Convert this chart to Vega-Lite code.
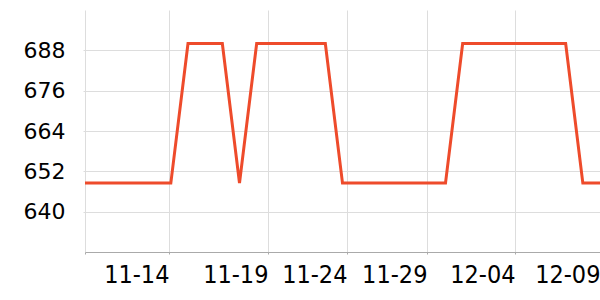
{
  "$schema": "https://vega.github.io/schema/vega-lite/v6.json",
  "width": 515,
  "height": 242,
  "autosize": {"type": "none"},
  "padding": {"left": 85, "top": 10, "right": 0, "bottom": 48},
  "background": "white",
  "config": {
    "view": {"stroke": null},
    "axis": {"labelFont": "DejaVu Sans", "labelFontSize": 22, "labelColor": "#000000", "gridColor": "#dddddd", "gridWidth": 1, "tickColor": "#aaaaaa", "tickSize": 2}
  },
  "data": {
    "values": [
      {"date": "2023-11-09", "value": 648.5},
      {"date": "2023-11-10", "value": 648.5},
      {"date": "2023-11-11", "value": 648.5},
      {"date": "2023-11-12", "value": 648.5},
      {"date": "2023-11-13", "value": 648.5},
      {"date": "2023-11-14", "value": 648.5},
      {"date": "2023-11-15", "value": 690},
      {"date": "2023-11-16", "value": 690},
      {"date": "2023-11-17", "value": 690},
      {"date": "2023-11-18", "value": 648.5},
      {"date": "2023-11-19", "value": 690},
      {"date": "2023-11-20", "value": 690},
      {"date": "2023-11-21", "value": 690},
      {"date": "2023-11-22", "value": 690},
      {"date": "2023-11-23", "value": 690},
      {"date": "2023-11-24", "value": 648.5},
      {"date": "2023-11-25", "value": 648.5},
      {"date": "2023-11-26", "value": 648.5},
      {"date": "2023-11-27", "value": 648.5},
      {"date": "2023-11-28", "value": 648.5},
      {"date": "2023-11-29", "value": 648.5},
      {"date": "2023-11-30", "value": 648.5},
      {"date": "2023-12-01", "value": 690},
      {"date": "2023-12-02", "value": 690},
      {"date": "2023-12-03", "value": 690},
      {"date": "2023-12-04", "value": 690},
      {"date": "2023-12-05", "value": 690},
      {"date": "2023-12-06", "value": 690},
      {"date": "2023-12-07", "value": 690},
      {"date": "2023-12-08", "value": 648.5},
      {"date": "2023-12-09", "value": 648.5}
    ]
  },
  "mark": {"type": "line", "color": "#ee4b2b", "strokeWidth": 3, "clip": true},
  "encoding": {
    "x": {
      "field": "date",
      "type": "temporal",
      "scale": {"type": "utc", "nice": false},
      "axis": {
        "title": null,
        "grid": true,
        "domain": true,
        "domainColor": "#aaaaaa",
        "values": [
          {"year": 2023, "month": 11, "date": 9, "utc": true},
          {"year": 2023, "month": 11, "date": 13, "hours": 21, "minutes": 26, "utc": true},
          {"year": 2023, "month": 11, "date": 19, "hours": 15, "minutes": 50, "utc": true},
          {"year": 2023, "month": 11, "date": 24, "hours": 6, "minutes": 17, "utc": true},
          {"year": 2023, "month": 11, "date": 28, "hours": 22, "minutes": 5, "utc": true},
          {"year": 2023, "month": 12, "date": 4, "hours": 1, "minutes": 12, "utc": true},
          {"year": 2023, "month": 12, "date": 9, "utc": true}
        ],
        "labelExpr": "datum.value < 1699500000000 ? '' : utcFormat(datum.value + 21600000, '%m-%d')",
        "labelAlign": "right",
        "labelFont": "DejaVu Sans Condensed",
        "labelFontSize": 25,
        "labelPadding": 8,
        "labelFlush": false,
        "labelOverlap": false
      }
    },
    "y": {
      "field": "value",
      "type": "quantitative",
      "scale": {"domain": [628, 700], "nice": false, "zero": false},
      "axis": {
        "title": null,
        "grid": true,
        "domain": false,
        "values": [640, 652, 664, 676, 688],
        "labelPadding": 18,
        "tickColor": "#dddddd"
      }
    }
  }
}
